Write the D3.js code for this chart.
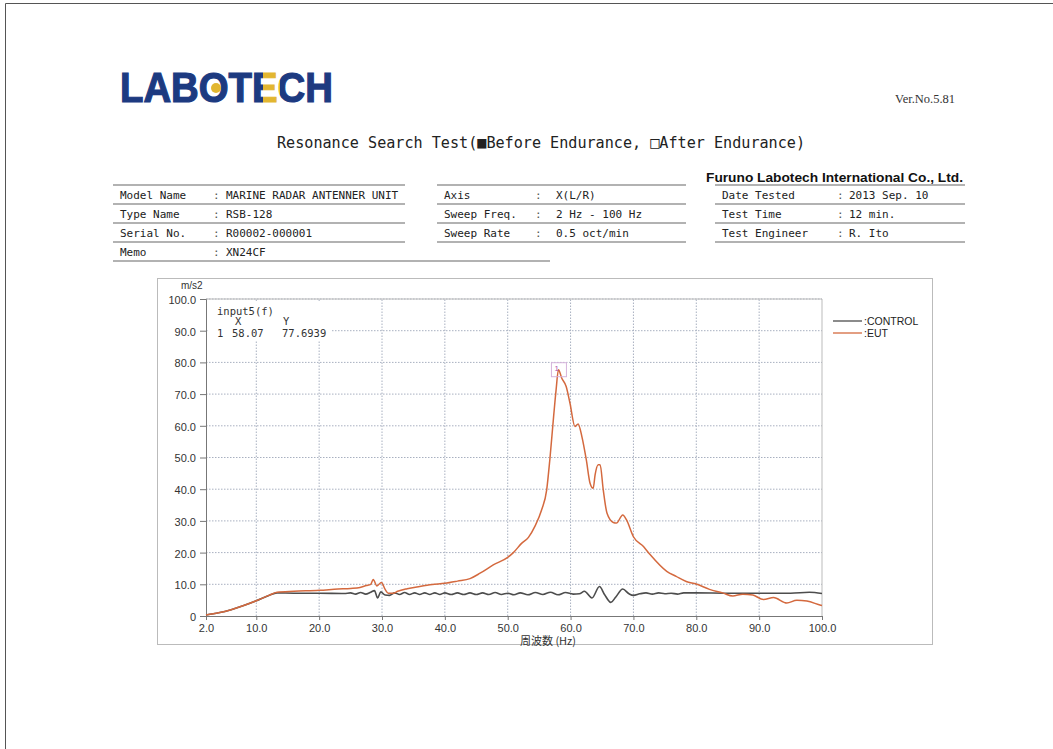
<!DOCTYPE html>
<html><head><meta charset="utf-8">
<script src="https://cdn.jsdelivr.net/npm/d3@7"></script>
<style>body{margin:0;background:#fff}svg{display:block}</style>
</head><body>
<svg id="c" width="1053" height="749"></svg>
<script>
// ---- data ----
const xTicks = [2, 10, 20, 30, 40, 50, 60, 70, 80, 90, 100];
const xTickLabels = ["2.0","10.0","20.0","30.0","40.0","50.0","60.0","70.0","80.0","90.0","100.0"];
const yTicks = [0,10,20,30,40,50,60,70,80,90,100];
const yTickLabels = ["0","10.0","20.0","30.0","40.0","50.0","60.0","70.0","80.0","90.0","100.0"];
const seriesNames = [":CONTROL", ":EUT"];
const controlData = [[2,0.3],[4,1.0],[6,2.0],[8,3.3],[10,4.8],[12,6.5],[13.3,7.3],[16,7.2],[20,7.2],[24,7.1],[25,7.3],[25.8,6.9],[26.6,7.4],[27.4,6.9],[28.2,7.5],[28.8,8.0],[29.3,5.7],[29.8,7.6],[30.5,6.6],[31.2,6.5],[32,7.3],[32.8,6.8],[33.6,7.4],[34.4,6.8],[35.2,7.3],[36,6.8],[36.8,7.3],[37.6,6.8],[38.4,7.3],[39.2,6.8],[40,7.3],[41,6.8],[42,7.3],[43,6.8],[44,7.3],[45,6.8],[46,7.3],[47,6.8],[48,7.4],[49,6.8],[50,7.2],[51,6.7],[52,7.3],[53.2,6.7],[54.4,7.4],[55.6,6.8],[56.8,7.5],[58,6.7],[59.2,7.4],[60.4,6.9],[61.4,7.0],[62.2,7.8],[63.4,5.7],[64.6,9.3],[65.4,6.8],[66.4,4.3],[67.2,6.0],[68.3,8.5],[69.3,7.0],[70,6.5],[71,7.0],[72,7.3],[73,6.9],[74,7.3],[75,7.0],[76,7.2],[77,6.9],[78,7.3],[80,7.3],[85,7.2],[90,7.2],[95,7.2],[98,7.5],[100,7.1]];
const eutData = [[2,0.3],[4,1.0],[6,2.0],[8,3.3],[10,4.8],[12,6.5],[13.3,7.5],[16,7.8],[20,8.1],[23,8.5],[25,8.7],[26.5,9.0],[27.5,9.6],[28.2,10.0],[28.6,11.5],[29.2,9.5],[29.9,10.6],[30.5,8.4],[31,7.2],[31.8,7.2],[32.5,7.8],[34,8.6],[36,9.3],[38,9.9],[40,10.3],[42,11.0],[44,11.8],[45.6,13.5],[47.7,16.1],[50,18.5],[50.9,20],[52.2,22.9],[53.3,24.8],[54.3,28.2],[55.4,33.5],[56.2,39.8],[56.7,49.3],[57.3,62.9],[57.7,71.4],[58.07,77.69],[58.6,75],[59.3,72.4],[59.9,67.2],[60.7,59.8],[61.2,60.6],[61.8,56.6],[62.5,49.3],[63.1,41.9],[63.6,40.3],[63.9,44.5],[64.4,47.7],[64.7,47.7],[65.2,39.8],[65.8,32.4],[66.8,29.5],[67.3,29.3],[68.3,31.9],[68.9,30.3],[70,25],[71.6,21.9],[72.6,19.5],[75.3,14.1],[76.8,12.5],[78.4,10.9],[80,10.1],[82.1,8.4],[84.2,7.3],[85.8,6.3],[87.4,6.9],[89,6.6],[90.7,5.2],[92.3,5.8],[94.4,4.1],[96,5],[97.6,4.7],[99.8,3.4],[100,3.3]];
const markerPoint = [58.07, 77.6939];
const infoLines = ["input5(f)"];
const leftRows = [["Model Name","MARINE RADAR ANTENNER UNIT"],["Type Name","RSB-128"],["Serial No.","R00002-000001"],["Memo","XN24CF"]];
const midRows = [["Axis","X(L/R)"],["Sweep Freq.","2 Hz - 100 Hz"],["Sweep Rate","0.5 oct/min"]];
const rightRows = [["Date Tested","2013 Sep. 10"],["Test Time","12 min."],["Test Engineer","R. Ito"]];

const svg = d3.select("#c");
const mono = "'DejaVu Sans Mono', 'Liberation Mono', monospace";
const sans = "'Liberation Sans', Arial, sans-serif";

// page border (scan frame)
svg.append("line").attr("x1",5.5).attr("y1",3.5).attr("x2",5.5).attr("y2",749).attr("stroke","#555").attr("stroke-width",1);
svg.append("line").attr("x1",5.5).attr("y1",3.5).attr("x2",1053).attr("y2",3.5).attr("stroke","#555").attr("stroke-width",1);

// logo
const navy = "#1d3a80", gold = "#e2b630";
const defs = svg.append("defs");
const g1 = defs.append("linearGradient").attr("id","eg").attr("gradientUnits","userSpaceOnUse")
  .attr("x1",120).attr("x2",333).attr("y1",0).attr("y2",0);
[[0,navy],[0.672,navy],[0.672,gold],[0.75,gold],[0.75,navy],[1,navy]].forEach(s=>
  g1.append("stop").attr("offset",s[0]).attr("stop-color",s[1]));
svg.append("text").attr("x",120).attr("y",102).attr("font-family",sans).attr("font-weight","900")
  .attr("font-size",42).attr("fill","url(#eg)").attr("stroke","url(#eg)").attr("stroke-width",1.2)
  .attr("textLength",213).attr("lengthAdjust","spacingAndGlyphs").text("LABOTECH");
svg.append("circle").attr("cx",216).attr("cy",88).attr("r",5).attr("fill",gold);

svg.append("text").attr("x",895).attr("y",103).attr("font-family","'Liberation Serif', serif").attr("font-size",12.5)
  .attr("fill","#333").text("Ver.No.5.81");

// title
svg.append("text").attr("x",277).attr("y",148).attr("font-family",mono).attr("font-size",16).attr("fill","#222")
  .attr("textLength",528).attr("lengthAdjust","spacingAndGlyphs")
  .text("Resonance Search Test(■Before Endurance, □After Endurance)");

svg.append("text").attr("x",706).attr("y",182).attr("font-family",sans).attr("font-weight","bold").attr("font-size",13)
  .attr("fill","#111").attr("textLength",257).attr("lengthAdjust","spacingAndGlyphs")
  .text("Furuno Labotech International Co., Ltd.");

// info table
const rowY = [185, 204, 223, 242, 261];
function block(rows, x0, x1, xl, xc, xv, lastLineEnd) {
  rows.forEach((r,i)=>{
    const yb = rowY[i] + 14;
    svg.append("text").attr("x",xl).attr("y",yb).attr("font-family",mono).attr("font-size",11).attr("fill","#222").text(r[0]);
    svg.append("text").attr("x",xc).attr("y",yb).attr("font-family",mono).attr("font-size",11).attr("fill","#555").text(":");
    svg.append("text").attr("x",xv).attr("y",yb).attr("font-family",mono).attr("font-size",11).attr("fill","#222").text(r[1]);
  });
  for (let i=0;i<=rows.length;i++){
    const end = (i===rows.length && lastLineEnd) ? lastLineEnd : x1;
    svg.append("line").attr("x1",x0).attr("x2",end).attr("y1",rowY[i]).attr("y2",rowY[i]).attr("stroke","#999").attr("stroke-width",1.3);
  }
}
block(leftRows, 113, 405, 120, 213, 226, 550);
block(midRows, 437, 686, 444, 535, 556);
block(rightRows, 715, 965, 722, 837, 849);

// chart frame
svg.append("rect").attr("x",157.5).attr("y",278.5).attr("width",775).attr("height",366).attr("fill","none").attr("stroke","#bbb");

const x = d3.scaleLinear().domain([2,100]).range([206,822]);
const y = d3.scaleLinear().domain([0,100]).range([616,299]);

// grid
const grid = svg.append("g");
grid.selectAll("line.v").data(xTicks.filter(d=>d>2&&d<100)).join("line")
  .attr("x1",d=>x(d)).attr("x2",d=>x(d)).attr("y1",y(0)).attr("y2",y(100))
  .attr("stroke","#a8b0c0").attr("stroke-width",1).attr("stroke-dasharray","1.5,1.5");
grid.selectAll("line.h").data(yTicks.filter(d=>d>0)).join("line")
  .attr("x1",x(2)).attr("x2",x(100)).attr("y1",d=>y(d)).attr("y2",d=>y(d))
  .attr("stroke","#a8b0c0").attr("stroke-width",1).attr("stroke-dasharray","1.5,1.5");
svg.append("line").attr("x1",x(100)).attr("x2",x(100)).attr("y1",y(0)).attr("y2",y(100)).attr("stroke","#bbb");
svg.append("line").attr("x1",x(2)).attr("x2",x(100)).attr("y1",y(100)).attr("y2",y(100)).attr("stroke","#bbb");

// axes
const ax = svg.append("g").attr("transform",`translate(0,${y(0)})`)
  .call(d3.axisBottom(x).tickValues(xTicks).tickFormat((d,i)=>xTickLabels[i]).tickSize(4).tickPadding(4));
const ay = svg.append("g").attr("transform",`translate(${x(2)},0)`)
  .call(d3.axisLeft(y).tickValues(yTicks).tickFormat((d,i)=>yTickLabels[i]).tickSize(6).tickPadding(4));
[ax,ay].forEach(a=>{
  a.select(".domain").attr("stroke","#777");
  a.selectAll(".tick line").attr("stroke","#777");
  a.selectAll(".tick text").attr("font-family",sans).attr("font-size",11).attr("fill","#333");
});
ay.selectAll(".tick text").attr("dy","0.4em");

svg.append("text").attr("x",181).attr("y",289).attr("font-family",sans).attr("font-size",10).attr("fill","#333").text("m/s2");
svg.append("text").attr("x",548).attr("y",645).attr("text-anchor","middle").attr("font-family","'Noto Sans CJK JP', sans-serif")
  .attr("font-size",11).attr("fill","#333").text("周波数 (Hz)");

// info box
svg.append("rect").attr("x",209).attr("y",302).attr("width",122).attr("height",38).attr("fill","#fff");
const fs = 10.5;
svg.append("text").attr("x",217).attr("y",315).attr("font-family",mono).attr("font-size",fs).attr("fill","#333").text(infoLines[0]);
svg.append("text").attr("x",235).attr("y",325).attr("font-family",mono).attr("font-size",fs).attr("fill","#333").text("X");
svg.append("text").attr("x",283).attr("y",325).attr("font-family",mono).attr("font-size",fs).attr("fill","#333").text("Y");
svg.append("text").attr("x",217).attr("y",337).attr("font-family",mono).attr("font-size",fs).attr("fill","#333").text("1");
svg.append("text").attr("x",232).attr("y",337).attr("font-family",mono).attr("font-size",fs).attr("fill","#333").text(markerPoint[0].toFixed(2));
svg.append("text").attr("x",282).attr("y",337).attr("font-family",mono).attr("font-size",fs).attr("fill","#333").text(markerPoint[1].toFixed(4));

// lines
const line = d3.line().x(d=>x(d[0])).y(d=>y(d[1])).curve(d3.curveMonotoneX);
svg.append("path").datum(controlData).attr("d",line).attr("fill","none").attr("stroke","#4d4d4d").attr("stroke-width",1.6);
svg.append("path").datum(eutData).attr("d",line).attr("fill","none").attr("stroke","#d4693e").attr("stroke-width",1.5);

// marker
const mx = x(markerPoint[0]), my = y(markerPoint[1]);
svg.append("rect").attr("x",mx-7).attr("y",my-7).attr("width",15).attr("height",14).attr("fill","none").attr("stroke","#d6b4dc").attr("stroke-width",1);
svg.append("text").attr("x",mx-4).attr("y",my+1).attr("font-family",sans).attr("font-size",8).attr("fill","#b050b0").text("1");

// legend
const lg = svg.append("g");
const legColors = ["#4d4d4d","#d4693e"];
seriesNames.forEach((n,i)=>{
  lg.append("line").attr("x1",833).attr("x2",862).attr("y1",321+12*i).attr("y2",321+12*i).attr("stroke",legColors[i]).attr("stroke-width",1.3);
  lg.append("text").attr("x",864).attr("y",325+12*i).attr("font-family",sans).attr("font-size",10.5).attr("fill","#222").text(n);
});
</script>
</body></html>
